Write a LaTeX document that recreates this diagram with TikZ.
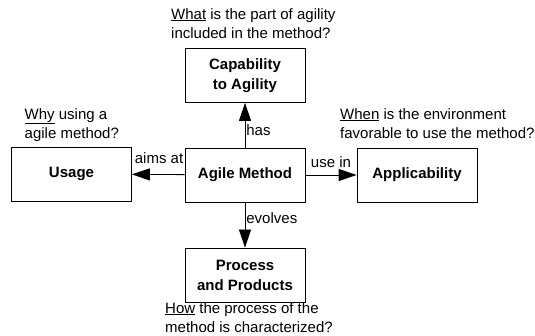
\documentclass[tikz,border=0pt]{standalone}
\usepackage{fontspec}
\setmainfont{Liberation Sans}
\usetikzlibrary{arrows.meta}

\tikzset{
  concept/.style={draw, line width=0.8pt, minimum width=120pt, minimum height=54pt,
    align=center, inner sep=0pt, font=\bfseries\fontsize{15}{20}\selectfont},
  question/.style={anchor=north west, align=left, inner sep=0pt,
    font=\fontsize{15}{19.2}\selectfont},
  relation/.style={-{Triangle[length=18pt,width=12pt]}, line width=0.8pt},
  rellabel/.style={inner sep=1pt, font=\fontsize{15}{18}\selectfont}
}

\begin{document}
\begin{tikzpicture}[x=1pt,y=-1pt]
\useasboundingbox (0,0) rectangle (535,336);
% Conceitos
\node[concept] (method) at (245,175) {Agile Method};
\node[concept] (capab) at (245,75.5) {Capability\\to Agility};
\node[concept] (usage) at (71.5,174) {Usage};
\node[concept] (applic) at (417,175) {Applicability};
\node[concept] (process) at (245,275) {Process\\and Products};

% Relacoes
\draw[relation] (method) -- node[rellabel, pos=0.38, right] {has} (capab);
\draw[relation] (method) -- node[rellabel, pos=0, anchor=south east, yshift=10pt] {aims at} (usage);
\draw[relation] (method) -- node[rellabel, midway, above, yshift=6pt] {use in} (applic);
\draw[relation] (method) -- node[rellabel, pos=0.35, right] {evolves} (process);

% Perguntas
\node[question] (qcapab) at (171,8) {\underline{What} is the part of agility\\included in the method?};
\node[question] (qusage) at (24.5,108) {\underline{Why} using a\\agile method?};
\node[question] (qapplic) at (340,108) {\underline{When} is the environment\\favorable to use the method?};
\node[question] (qprocess) at (165,302) {\underline{How} the process of the\\method is characterized?};
\end{tikzpicture}
\end{document}
